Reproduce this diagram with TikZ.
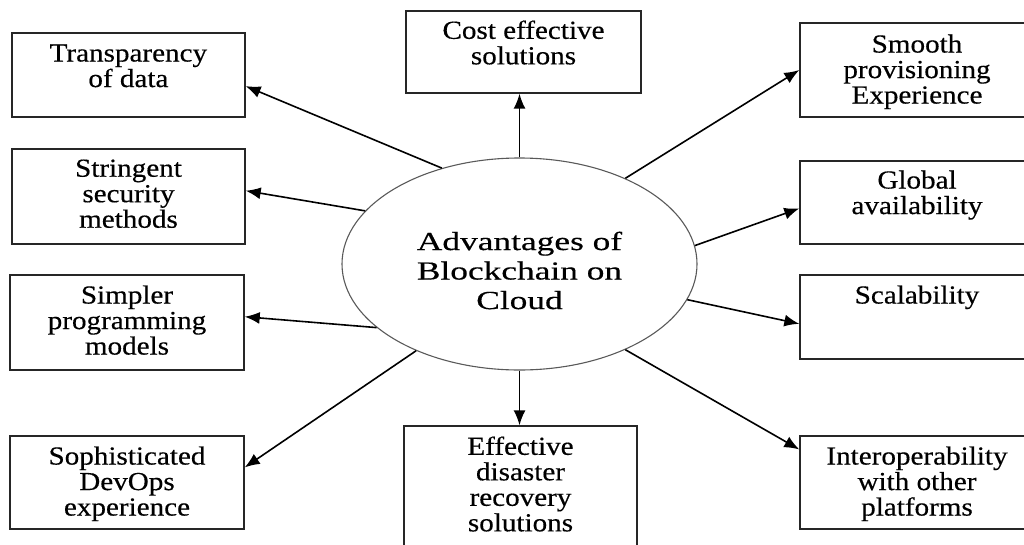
\documentclass[tikz,border=0pt]{standalone}
\usepackage{fontspec}
\setmainfont[FakeStretch=1.12,FakeBold=0.4]{Liberation Serif}
\newfontfamily\ellfont[FakeStretch=1.36,FakeBold=0.4]{Liberation Serif}
\usetikzlibrary{arrows.meta,calc,shapes.geometric}
\begin{document}
\begin{tikzpicture}[x=1pt,y=-1pt,
  boxshape/.style={draw=black!85,line width=1.4pt,rectangle,inner sep=0pt,minimum width=234pt},
  boxtext/.style={anchor=north,inner sep=0pt,align=center,font=\fontsize{26}{25.5}\selectfont},
  arr/.style={line width=1.6pt,-{Latex[length=15pt,width=12pt]}}]
\useasboundingbox (0,0) rectangle (1024,544);
% central ellipse
\node[draw=black!65,line width=1.1pt,ellipse,inner sep=0pt,minimum width=355pt,minimum height=212pt] (ell) at (519.5,264) {};
\node[align=center,inner sep=0pt,font=\ellfont\fontsize{26}{29.5}\selectfont] (elltext) at (519.5,270.5) {Advantages of\\Blockchain on\\Cloud};
% boxes
\node[boxshape,minimum width=233pt,minimum height=84pt] (t1) at (128.4,75) {};
\node[boxshape,minimum width=233pt,minimum height=95pt] (t2) at (128.5,196.5) {};
\node[boxshape,minimum height=95pt] (t3) at (127,322.5) {};
\node[boxshape,minimum height=93pt] (t4) at (127,482.5) {};
\node[boxshape,minimum width=235pt,minimum height=82pt] (cost) at (523.5,52) {};
\node[boxshape,minimum width=233pt,minimum height=134pt] (eff) at (520.5,493) {};
\node[boxshape,minimum height=94pt] (smooth) at (917,70) {};
\node[boxshape,minimum height=83pt] (glob) at (917,202.5) {};
\node[boxshape,minimum height=84pt] (scal) at (917,317) {};
\node[boxshape,minimum height=93pt] (inter) at (917,482.5) {};
% texts
\node[boxtext] (t1x) at ($(t1.north)+(0,12)$) {Transparency\\of data};
\node[boxtext] (t2x) at ($(t2.north)+(0,11)$) {Stringent\\security\\methods};
\node[boxtext] (t3x) at ($(t3.north)+(0,11)$) {Simpler\\programming\\models};
\node[boxtext] (t4x) at ($(t4.north)+(0,11)$) {Sophisticated\\DevOps\\experience};
\node[boxtext] (costx) at ($(cost.north)+(0,10)$) {Cost effective\\solutions};
\node[boxtext] (effx) at ($(eff.north)+(0,11)$) {Effective\\disaster\\recovery\\solutions};
\node[boxtext] (smoothx) at ($(smooth.north)+(0,12)$) {Smooth\\provisioning\\Experience};
\node[boxtext] (globx) at ($(glob.north)+(0,10)$) {Global\\availability};
\node[boxtext] (scalx) at ($(scal.north)+(0,11)$) {Scalability};
\node[boxtext] (interx) at ($(inter.north)+(0,11)$) {Interoperability\\with other\\platforms};
% arrows
\draw[arr] (ell.129.6) -- ($(t1.north east)!0.63!(t1.south east)$);
\draw[arr] (ell.161.1) -- ($(t2.north east)!0.44!(t2.south east)$);
\draw[arr] (ell.204.7) -- ($(t3.north east)!0.44!(t3.south east)$);
\draw[arr] (ell.220.6) -- ($(t4.north east)!0.34!(t4.south east)$);
\draw[arr] (ell.90) -- (ell.90 |- cost.south);
\draw[arr] (ell.270) -- (ell.270 |- eff.north);
\draw[arr] (ell.39.2) -- ($(smooth.north west)!0.5!(smooth.south west)$);
\draw[arr] (ell.6.8) -- ($(glob.north west)!0.57!(glob.south west)$);
\draw[arr] (ell.-12.3) -- ($(scal.north west)!0.58!(scal.south west)$);
\draw[arr] (ell.-39.8) -- ($(inter.north west)!0.15!(inter.south west)$);
\end{tikzpicture}
\end{document}
